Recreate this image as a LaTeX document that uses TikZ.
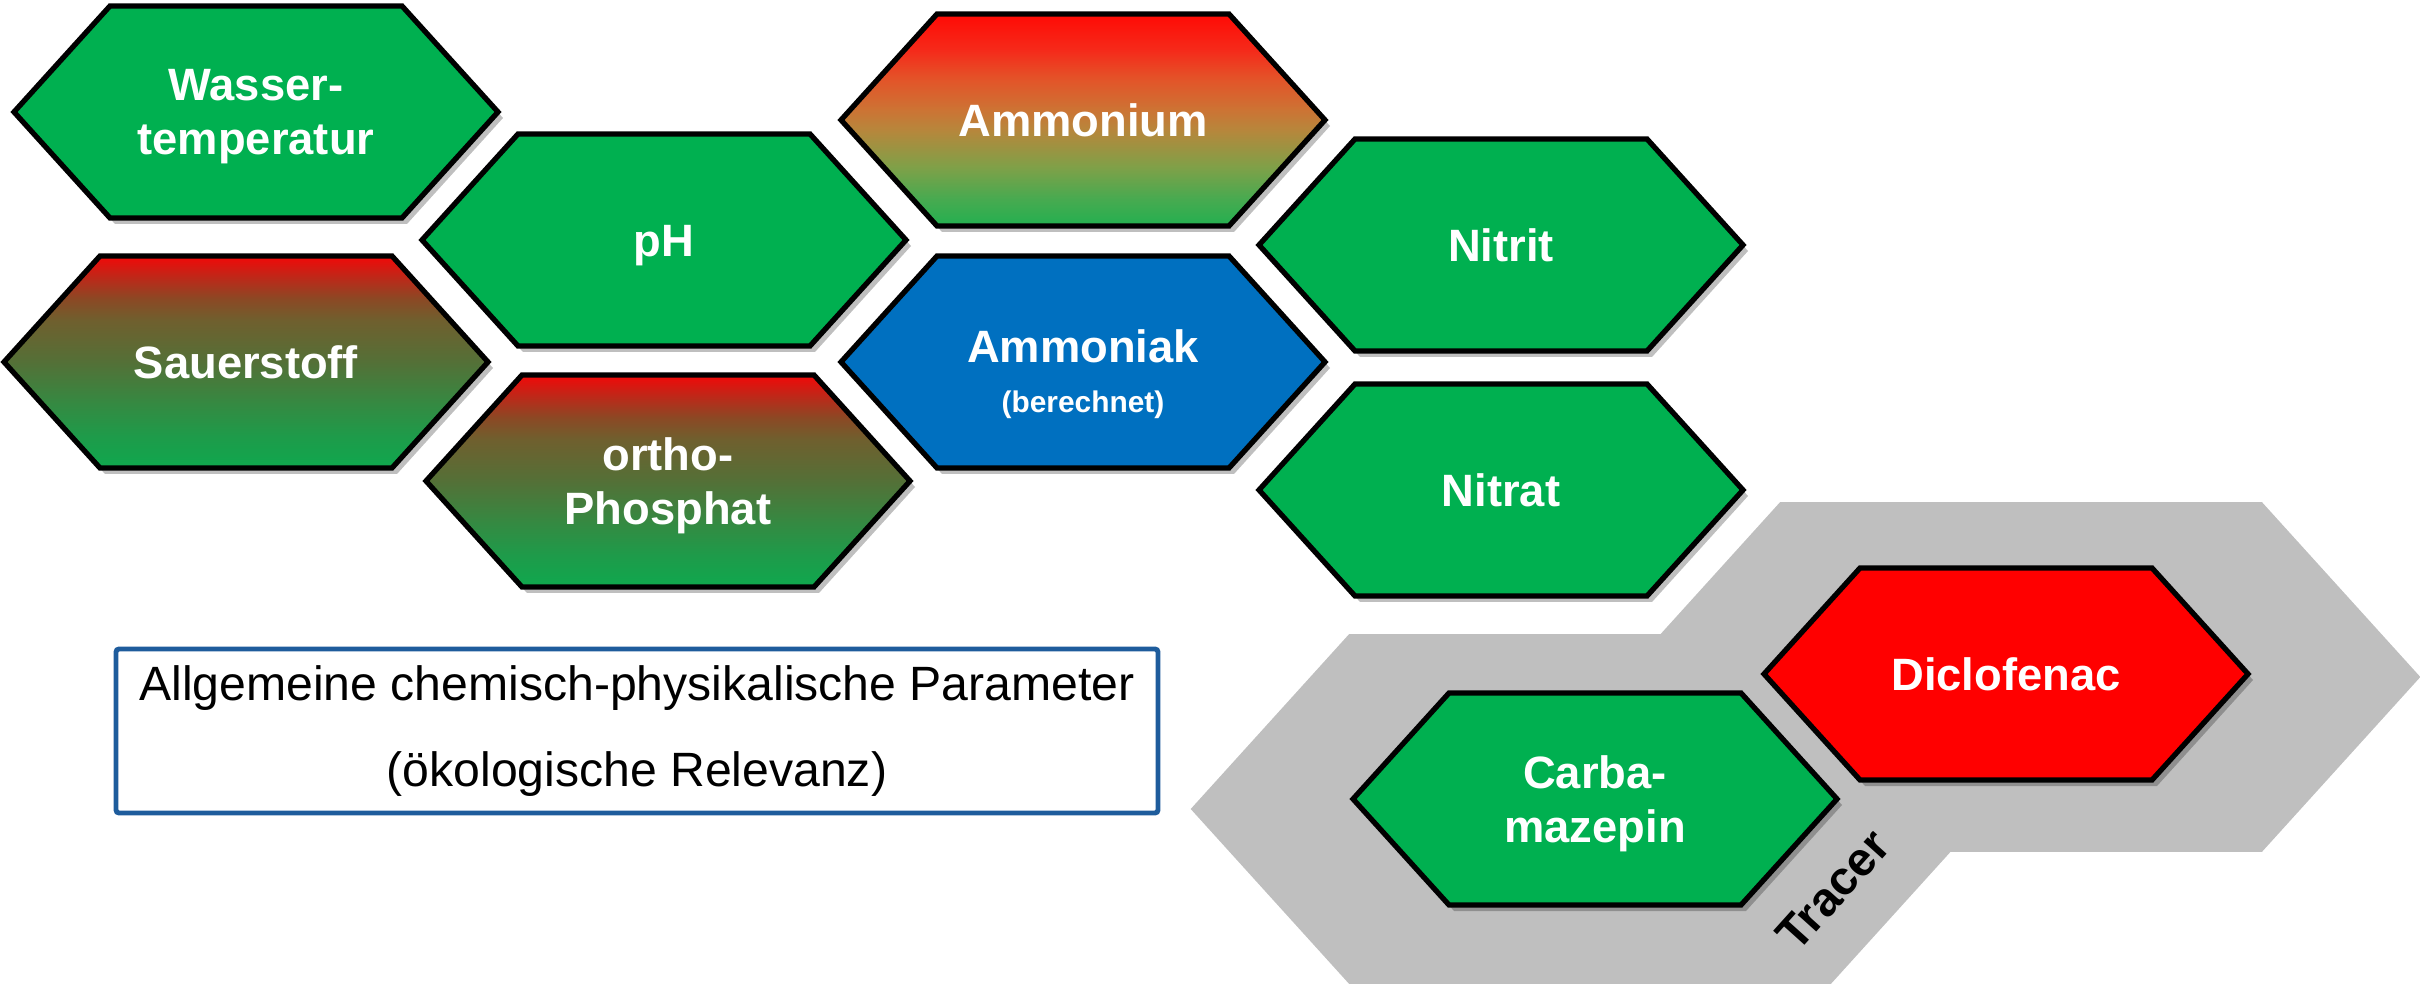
\documentclass[tikz,border=0pt]{standalone}
\usepackage{fontspec}
\setmainfont{Liberation Sans}
\usepackage{tikz}
\usetikzlibrary{
  shadows,
}
\definecolor{hexgreen}{RGB}{0,176,80}
\definecolor{hexblue}{RGB}{0,112,192}
\definecolor{hexred}{RGB}{255,0,0}
\definecolor{tracergray}{RGB}{191,191,191}
\definecolor{boxblue}{RGB}{30,92,156}
% Ammonium, top to bottom
\definecolor{amA}{RGB}{255,10,5}
\definecolor{amB}{RGB}{245,42,26}
\definecolor{amC}{RGB}{228,82,40}
\definecolor{amD}{RGB}{205,115,52}
\definecolor{amE}{RGB}{182,135,60}
\definecolor{amF}{RGB}{128,160,72}
\definecolor{amG}{RGB}{72,170,80}
\definecolor{amH}{RGB}{35,176,80}
% Sauerstoff / ortho-Phosphat, top to bottom
\definecolor{oxA}{RGB}{242,8,8}
\definecolor{oxB}{RGB}{190,40,25}
\definecolor{oxC}{RGB}{140,72,36}
\definecolor{oxD}{RGB}{112,95,46}
\definecolor{oxE}{RGB}{84,112,55}
\definecolor{oxF}{RGB}{52,138,66}
\definecolor{oxG}{RGB}{30,155,74}
\definecolor{oxH}{RGB}{15,168,78}
\pgfdeclareverticalshading{ammograd}{100bp}{
  color(0bp)=(amH); color(25bp)=(amH); color(31.5bp)=(amG); color(39bp)=(amF);
  color(47.5bp)=(amE); color(52.5bp)=(amD); color(60bp)=(amC); color(66.5bp)=(amB);
  color(75bp)=(amA); color(100bp)=(amA)}
\pgfdeclareverticalshading{oxygrad}{100bp}{
  color(0bp)=(oxH); color(25bp)=(oxH); color(32.5bp)=(oxG); color(40bp)=(oxF);
  color(50bp)=(oxE); color(60bp)=(oxD); color(65bp)=(oxC); color(70bp)=(oxB);
  color(75bp)=(oxA); color(100bp)=(oxA)}
\newcommand\smalllabelfont{\fontsize{8.5}{10}\selectfont}
\tikzset{
  hexa/.pic = {
      \path[#1] (-242,0) -- (-146,-106) -- (146,-106)
        -- (242,0) -- (146,106) -- (-146,106) -- cycle;
    },
  hexcell/.style = {
      draw=black,
      line width=1.5pt,
      drop shadow={shadow xshift=0.5mm, shadow yshift=-0.6mm,
          opacity=0.25, fill=black},
    },
  greencell/.style = {hexcell, fill=hexgreen},
  bluecell/.style = {hexcell, fill=hexblue},
  redcell/.style = {hexcell, fill=hexred},
  ammocell/.style = {hexcell, shading=ammograd},
  oxycell/.style = {hexcell, shading=oxygrad},
  tracerbg/.style = {fill=tracergray},
  hexlabel/.style = {
      text=white,
      align=center,
      inner sep=0pt,
      font=\bfseries\fontsize{12.9}{15.3}\selectfont,
    },
  infobox/.style = {
      rectangle,
      draw=boxblue,
      line width=1.4pt,
      rounded corners=0.3mm,
      minimum width=104.2mm,
      minimum height=16.4mm,
      inner sep=0pt,
      align=center,
      font=\fontsize{13.7}{24.5}\selectfont,
    },
  tracerlabel/.style = {
      font=\bfseries\fontsize{13.5}{16}\selectfont,
      inner sep=0pt,
      rotate=48,
    },
}

\begin{document}
\begin{tikzpicture}[x=0.1mm, y=-0.1mm]
    \useasboundingbox (0,0) rectangle (2420,987);

    % grey field behind the tracers
    \pic[scale=1.65] at (2021,677) {hexa=tracerbg};
    \pic[scale=1.65] at (1590,809) {hexa=tracerbg};

    \pic at (256,112)  {hexa=greencell}; \node[hexlabel] (wasser)     at (256,117)  {Wasser-\\temperatur};
    \pic at (246,362)  {hexa=oxycell};   \node[hexlabel] (sauerstoff) at (246,362)  {Sauerstoff};
    \pic at (664,240)  {hexa=greencell}; \node[hexlabel] (ph)         at (664,246)  {pH};
    \pic at (668,481)  {hexa=oxycell};   \node[hexlabel] (ortho)      at (668,486)  {ortho-\\Phosphat};
    \pic at (1083,120) {hexa=ammocell};  \node[hexlabel] (ammonium)   at (1083,120) {Ammonium};
    \pic at (1083,362) {hexa=bluecell};  \node[hexlabel] (ammoniak)   at (1083,374) {Ammoniak\\[-1.1pt]{\smalllabelfont(berechnet)}};
    \pic at (1501,245) {hexa=greencell}; \node[hexlabel] (nitrit)     at (1501,245) {Nitrit};
    \pic at (1501,490) {hexa=greencell}; \node[hexlabel] (nitrat)     at (1501,490) {Nitrat};
    \pic at (2006,674) {hexa=redcell};   \node[hexlabel] (diclofenac) at (2006,674) {Diclofenac};
    \pic at (1595,799) {hexa=greencell}; \node[hexlabel] (carba)      at (1595,804) {Carba-\\mazepin};

    \node[infobox] (info) at (637,731) {Allgemeine chemisch-physikalische Parameter\\(ökologische Relevanz)};
    \node[tracerlabel] (tracer) at (1833,890) {Tracer};
\end{tikzpicture}
\end{document}
